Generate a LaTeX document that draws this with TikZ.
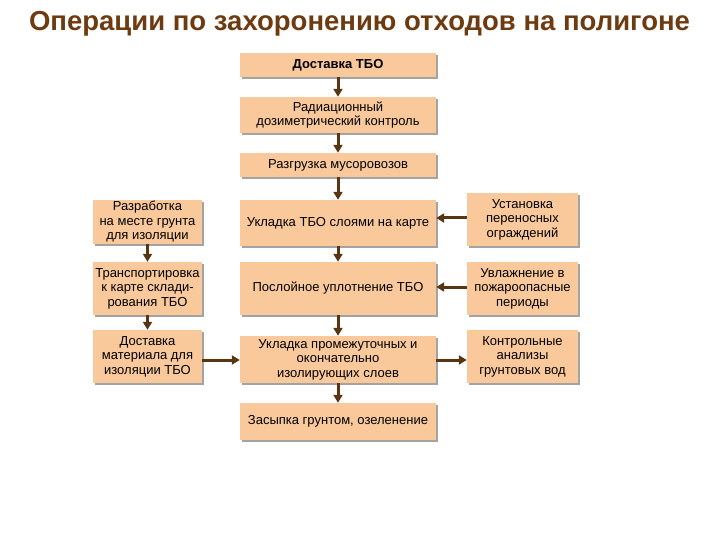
\documentclass[tikz,border=0pt]{standalone}
\usepackage{fontspec}
\setmainfont{Liberation Sans}
\usetikzlibrary{arrows.meta,shadows}
\definecolor{boxfill}{HTML}{F9C99C}
\definecolor{arrowc}{HTML}{5A3512}
\definecolor{titlec}{HTML}{6E3A10}
\tikzset{
 bx/.style={fill=boxfill, draw=none, align=center, inner sep=0pt, font=\fontsize{13}{14.5}\selectfont,
   drop shadow={shadow xshift=2pt, shadow yshift=-2pt, fill=black!45, opacity=0.8}},
 ar/.style={draw=arrowc, line width=3pt, -{Triangle[length=8pt,width=9pt]}}
}
\newcommand{\bxat}[6]{\node[bx, minimum width={#3-#1}, minimum height={#4-#2}] (#5) at ({(#1+#3)/2},{(#2+#4)/2}) {#6};}
\begin{document}
\begin{tikzpicture}[x=1pt,y=-1pt]
\useasboundingbox (0,0) rectangle (720,540);
\node[font=\bfseries\fontsize{27.5}{30}\selectfont, text=titlec,
  drop shadow={shadow xshift=1.5pt, shadow yshift=-1.5pt, fill=none, opacity=0}] (title) at (359.5,23.5) {Операции по захоронению отходов на полигоне};
\begin{scope}[on background layer/.style={}]
\end{scope}
\bxat{240}{53}{436}{77}{c1}{\bfseries Доставка ТБО}
\bxat{240}{97}{436}{133}{c2}{Радиационный\\дозиметрический контроль}
\bxat{240}{153}{436}{177}{c3}{Разгрузка мусоровозов}
\bxat{240}{200}{436}{246}{c4}{Укладка ТБО слоями на карте}
\bxat{240}{262}{436}{315}{c5}{Послойное уплотнение ТБО}
\bxat{240}{336}{436}{383}{c6}{Укладка промежуточных и\\окончательно\\изолирующих слоев}
\bxat{240}{403}{436}{440}{c7}{Засыпка грунтом, озеленение}
\bxat{93}{200}{202}{244}{l1}{Разработка\\на месте грунта\\для изоляции}
\bxat{93}{262}{202}{315}{l2}{Транспортировка\\к карте склади-\\рования ТБО}
\bxat{93}{330}{202}{383}{l3}{Доставка\\материала для\\изоляции ТБО}
\bxat{467}{193}{578}{246}{r1}{Установка\\переносных\\ограждений}
\bxat{467}{262}{578}{315}{r2}{Увлажнение в\\пожароопасные\\периоды}
\bxat{467}{330}{578}{383}{r3}{Контрольные\\анализы\\грунтовых вод}
\draw[ar] (c1) -- (c2);
\draw[ar] (c2) -- (c3);
\draw[ar] (c3) -- (c4);
\draw[ar] (c4) -- (c5);
\draw[ar] (c5) -- (c6);
\draw[ar] (c6) -- (c7);
\draw[ar] (l1) -- (l2);
\draw[ar] (l2) -- (l3);
\draw[ar] (r1.west |- 0,218) -- (c4.east |- 0,218);
\draw[ar] (r2.west |- 0,287) -- (c5.east |- 0,287);
\draw[ar] (l3.east |- 0,360) -- (c6.west |- 0,360);
\draw[ar] (c6.east |- 0,360) -- (r3.west |- 0,360);
\end{tikzpicture}
\end{document}
